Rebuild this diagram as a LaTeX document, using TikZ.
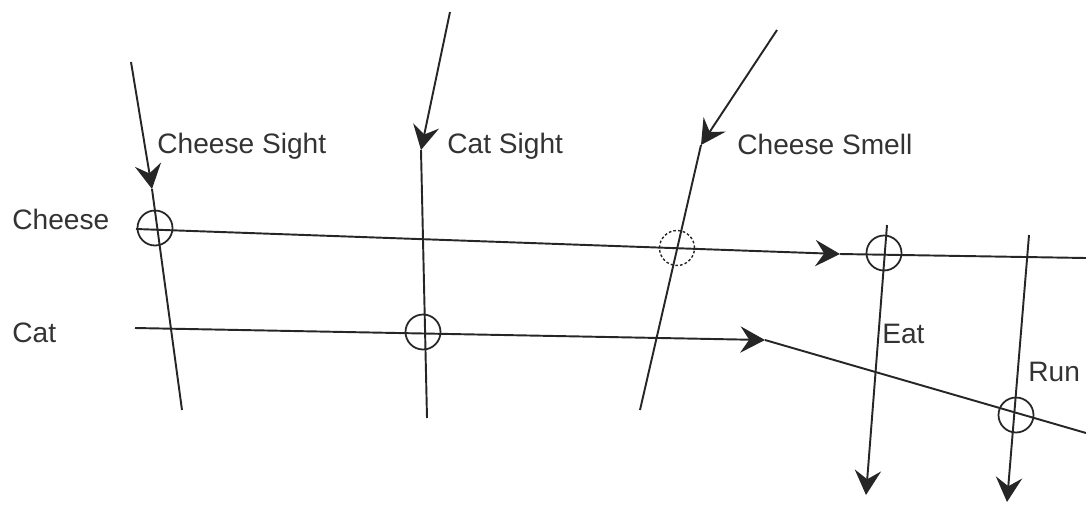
\documentclass[tikz,border=0pt]{standalone}
\usepackage{fontspec}
\setmainfont{Liberation Sans}
\usetikzlibrary{arrows.meta}

\begin{document}
\begin{tikzpicture}[
    x=0.02cm, y=-0.02cm,
    wire/.style={line width=1.1pt,black!85},
    feed/.style={wire,-{Stealth[length=14pt,width=15pt,inset=5pt]}},
    junc/.style={circle,draw=black!85,line width=1pt,minimum size=0.7cm,inner sep=0pt},
    weak/.style={junc,dash pattern=on 1.5pt off 1.2pt,line width=0.8pt},
    tag/.style={anchor=base west,inner sep=0pt,font=\fontsize{16}{19}\selectfont,text=black!80}
]
\useasboundingbox (0,0) rectangle (1086,508);

% sensor inputs
\coordinate (sight0) at (131,62);
\coordinate (sight1) at (152,189);
\coordinate (sight2) at (182,410);
\coordinate (cat0) at (450,12);
\coordinate (cat1) at (421,150);
\coordinate (cat2) at (427,418);
\coordinate (smell0) at (777,30);
\coordinate (smell1) at (701,145);
\coordinate (smell2) at (640,410);

% state lines
\coordinate (ch0) at (136,229);
\coordinate (ch1) at (840,254);
\coordinate (ch2) at (1086,258);
\coordinate (ct0) at (135,328);
\coordinate (ct1) at (765,340);
\coordinate (ct2) at (1086,433);

% actions
\coordinate (eat0) at (887,225);
\coordinate (eat1) at (866,495);
\coordinate (run0) at (1029,235);
\coordinate (run1) at (1007,502);

\draw[feed] (sight0) -- (sight1);
\draw[wire] (sight1) -- (sight2);
\draw[feed] (cat0) -- (cat1);
\draw[wire] (cat1) -- (cat2);
\draw[feed] (smell0) -- (smell1);
\draw[wire] (smell1) -- (smell2);

\draw[feed] (ch0) -- (ch1);
\draw[wire] (ch1) -- (ch2);
\draw[feed] (ct0) -- (ct1);
\draw[wire] (ct1) -- (ct2);

\draw[feed] (eat0) -- (eat1);
\draw[feed] (run0) -- (run1);

% junctions
\node[junc] (jcheese) at (155,228) {};
\node[junc] (jcat) at (423,332) {};
\node[weak] (jsmell) at (677,248) {};
\node[junc] (jeat) at (884,253) {};
\node[junc] (jrun) at (1016,415) {};

% labels
\node[tag] (lsight) at (157,153) {Cheese Sight};
\node[tag] (lcat) at (447,153) {Cat Sight};
\node[tag] (lsmell) at (737,154) {Cheese Smell};
\node[tag] (lcheese) at (12,229) {Cheese};
\node[tag] (lcatst) at (12,342) {Cat};
\node[tag] (leat) at (882,343) {Eat};
\node[tag] (lrun) at (1028,381) {Run};
\end{tikzpicture}
\end{document}
